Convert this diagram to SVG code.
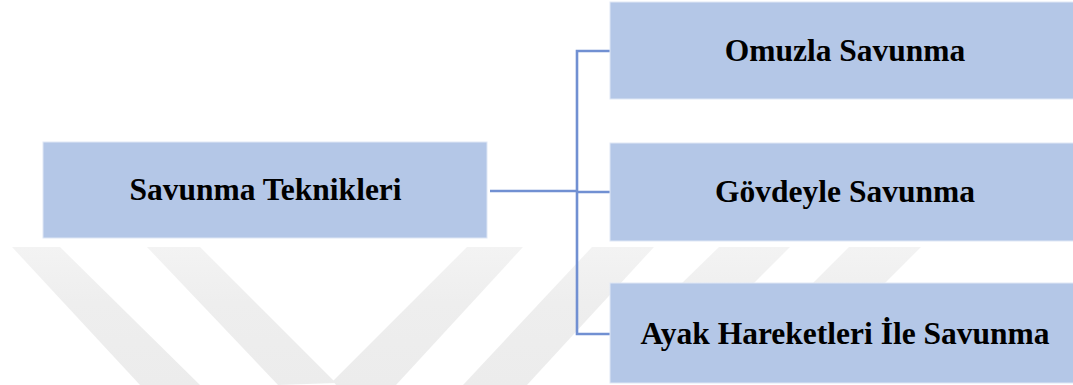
<svg xmlns="http://www.w3.org/2000/svg" width="1073" height="385" viewBox="0 0 1073 385">
  <defs>
    <linearGradient id="wmGrad" x1="0" y1="247" x2="0" y2="385" gradientUnits="userSpaceOnUse">
      <stop offset="0" stop-color="#f3f3f3"/>
      <stop offset="0.4" stop-color="#eeeeee"/>
      <stop offset="1" stop-color="#ececec"/>
    </linearGradient>
  </defs>
  <style>
    .box { fill: #b4c7e7; stroke: #dfe7f5; stroke-width: 1; }
    .lbl { font-family: "Liberation Serif", "Times New Roman", serif; font-weight: bold; font-size: 31.5px; fill: #000; text-anchor: middle; }
    .wm { fill: url(#wmGrad); }
    .conn { fill: none; stroke: #7190d2; stroke-width: 2.6; }
  </style>
  <rect width="1073" height="385" fill="#ffffff"/>
  <g id="watermark">
    <polygon class="wm" points="12,247 60,247 200,385 140,385"/>
    <polygon class="wm" points="147,247 200,247 336,383 278,385"/>
    <polygon class="wm" points="467,247 523,247 396,385 336,385 333,381"/>
    <polygon class="wm" points="592,247 654,247 527,385 463,385"/>
    <polygon class="wm" points="719,247 790,247 752,285 680,285"/>
    <polygon class="wm" points="849,247 921,247 883,285 811,285"/>
  </g>
  <g id="connectors">
    <path class="conn" d="M490,191 H577"/>
    <path class="conn" d="M610,51 H577 V334 H610"/>
    <path class="conn" d="M577,192 H610"/>
  </g>
  <g id="node-savunma-teknikleri">
    <rect class="box" x="43" y="142" width="444" height="96"/>
    <text class="lbl" x="265.5" y="200">Savunma Teknikleri</text>
  </g>
  <g id="node-omuzla">
    <rect class="box" x="610" y="2" width="470" height="97"/>
    <text class="lbl" x="845" y="61">Omuzla Savunma</text>
  </g>
  <g id="node-govdeyle">
    <rect class="box" x="610" y="143" width="470" height="98"/>
    <text class="lbl" x="845" y="202">Gövdeyle Savunma</text>
  </g>
  <g id="node-ayak">
    <rect class="box" x="610" y="283" width="470" height="100"/>
    <text class="lbl" x="845" y="344">Ayak Hareketleri İle Savunma</text>
  </g>
</svg>
